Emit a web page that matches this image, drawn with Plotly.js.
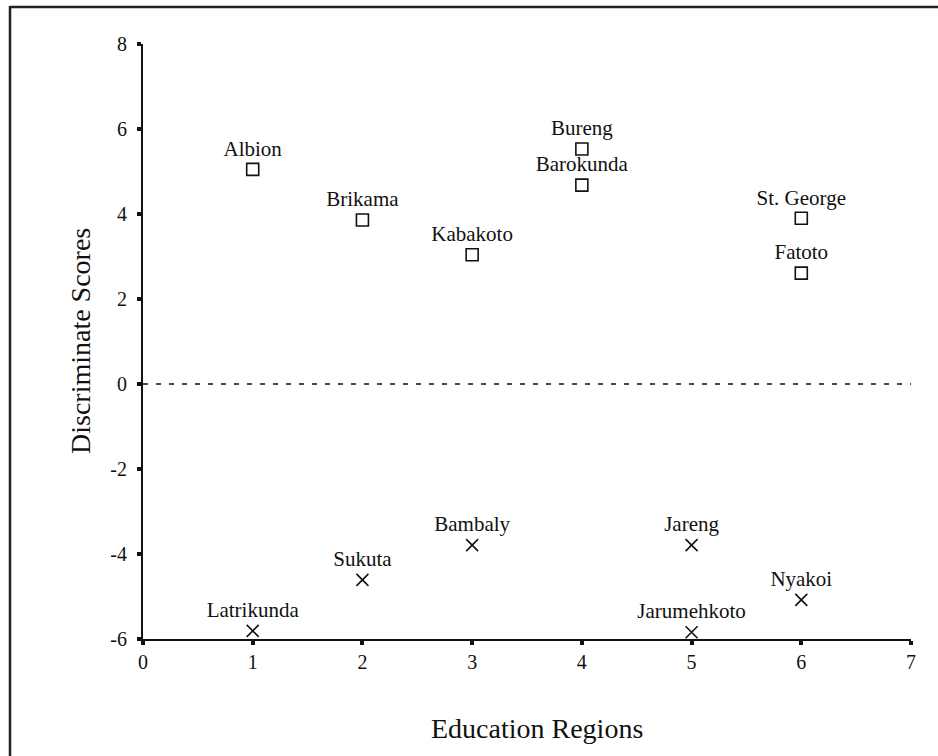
<!DOCTYPE html>
<html>
<head>
<meta charset="utf-8">
<script src="https://cdn.plot.ly/plotly-3.0.1.min.js"></script>
<style>
html,body{margin:0;padding:0;background:#fff;}
#chart{width:938px;height:756px;}
</style>
</head>
<body>
<div id="chart"></div>
<script>
// Group 1 (squares)
const posNames = ["Albion", "Brikama", "Kabakoto", "Bureng", "Barokunda", "St. George", "Fatoto"];
const posRegion = [1, 2, 3, 4, 4, 6, 6];
const posScore = [5.05, 3.86, 3.04, 5.53, 4.68, 3.9, 2.61];

// Group 2 (crosses)
const negNames = ["Latrikunda", "Sukuta", "Bambaly", "Jareng", "Jarumehkoto", "Nyakoi"];
const negRegion = [1, 2, 3, 5, 5, 6];
const negScore = [-5.81, -4.61, -3.79, -3.79, -5.84, -5.08];

const xTicks = [0, 1, 2, 3, 4, 5, 6, 7];
const yTicks = [-6, -4, -2, 0, 2, 4, 6, 8];

const xTitle = "Education Regions";
const yTitle = "Discriminate Scores";

const W = 938, H = 756;
const M = {l: 143, r: 27, t: 44, b: 117};
const pw = W - M.l - M.r, ph = H - M.t - M.b;
const px2x = p => (p - M.l) / pw;
const py2y = p => (H - M.b - p) / ph;

const font = "Liberation Serif, Times New Roman, serif";

const traces = [
  {
    x: posRegion, y: posScore, text: posNames,
    type: "scatter", mode: "markers+text", textposition: "top center",
    textfont: {family: font, size: 21, color: "#111"},
    marker: {symbol: "square-open", size: 12, color: "#111", line: {width: 1.6, color: "#111"}},
    cliponaxis: false, showlegend: false, hoverinfo: "skip"
  },
  {
    x: negRegion, y: negScore, text: negNames,
    type: "scatter", mode: "markers+text", textposition: "top center",
    textfont: {family: font, size: 21, color: "#111"},
    marker: {symbol: "x-thin-open", size: 12, color: "#111", line: {width: 1.6, color: "#111"}},
    cliponaxis: false, showlegend: false, hoverinfo: "skip"
  }
];

const layout = {
  width: W, height: H,
  margin: M,
  paper_bgcolor: "#fff", plot_bgcolor: "#fff",
  font: {family: font, color: "#111"},
  showlegend: false,
  xaxis: {
    range: [0, 7], tickvals: xTicks, ticktext: xTicks.map(String),
    showgrid: false, zeroline: false, showline: true, linecolor: "#111", linewidth: 2,
    ticks: "outside", ticklen: 4, tickwidth: 4, tickcolor: "#111",
    tickfont: {family: font, size: 20, color: "#111"}
  },
  yaxis: {
    range: [-6, 8], tickvals: yTicks, ticktext: yTicks.map(String),
    showgrid: false, zeroline: false, showline: true, linecolor: "#111", linewidth: 2,
    ticks: "outside", ticklen: 4, tickwidth: 4, tickcolor: "#111",
    ticklabelstandoff: 6,
    tickfont: {family: font, size: 20, color: "#111"}
  },
  annotations: [
    {text: xTitle, xref: "paper", yref: "paper", x: px2x(537), y: py2y(728),
     xanchor: "center", yanchor: "middle", showarrow: false,
     font: {family: font, size: 28, color: "#111"}},
    {text: yTitle, xref: "paper", yref: "paper", x: px2x(80), y: py2y(341),
     xanchor: "center", yanchor: "middle", showarrow: false, textangle: -90,
     font: {family: font, size: 28, color: "#111"}}
  ],
  shapes: [
    {type: "line", xref: "paper", yref: "y", x0: 0, x1: 1, y0: 0, y1: 0,
     line: {color: "#111", width: 1.5, dash: "5px,8px"}},
    {type: "line", xref: "paper", yref: "paper", x0: px2x(10), x1: px2x(W + 5), y0: py2y(7), y1: py2y(7),
     line: {color: "#222", width: 2.5}},
    {type: "line", xref: "paper", yref: "paper", x0: px2x(10), x1: px2x(10), y0: py2y(6), y1: py2y(H + 5),
     line: {color: "#222", width: 2.5}}
  ]
};

Plotly.newPlot("chart", traces, layout, {displayModeBar: false, staticPlot: true});
</script>
</body>
</html>
